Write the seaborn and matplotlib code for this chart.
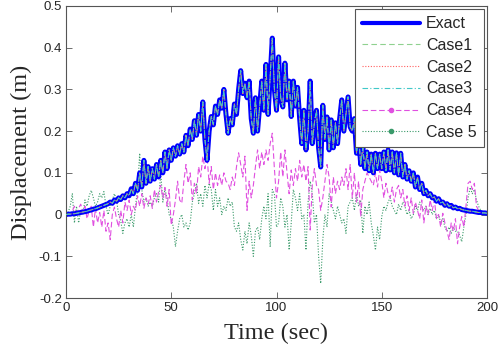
import matplotlib
matplotlib.use("Agg")
import matplotlib.pyplot as plt
from matplotlib.lines import Line2D
import numpy as np
import seaborn as sns

# time axis, 1 s steps
t = np.arange(0, 201, 1)

# values
exact = [
    0.000, 0.001, 0.001, 0.002, 0.002, 0.003, 0.004, 0.005, 0.006, 0.007,
    0.008, 0.010, 0.011, 0.013, 0.014, 0.016, 0.018, 0.020, 0.022, 0.024,
    0.026, 0.030, 0.027, 0.035, 0.032, 0.040, 0.036, 0.045, 0.040, 0.050,
    0.045, 0.062, 0.050, 0.075, 0.058, 0.100, 0.066, 0.130, 0.075, 0.115,
    0.080, 0.110, 0.085, 0.120, 0.090, 0.130, 0.100, 0.150, 0.110, 0.155,
    0.130, 0.160, 0.140, 0.165, 0.145, 0.170, 0.150, 0.190, 0.165, 0.205,
    0.180, 0.225, 0.190, 0.240, 0.200, 0.270, 0.180, 0.130, 0.200, 0.235,
    0.215, 0.260, 0.240, 0.275, 0.255, 0.300, 0.240, 0.195, 0.230, 0.215,
    0.265, 0.240, 0.300, 0.345, 0.290, 0.315, 0.280, 0.320, 0.230, 0.195,
    0.280, 0.200, 0.260, 0.320, 0.250, 0.360, 0.240, 0.330, 0.423, 0.300,
    0.250, 0.378, 0.280, 0.258, 0.363, 0.275, 0.320, 0.235, 0.320, 0.260,
    0.305, 0.230, 0.170, 0.250, 0.155, 0.200, 0.320, 0.170, 0.220, 0.250,
    0.160, 0.114, 0.262, 0.180, 0.234, 0.155, 0.227, 0.160, 0.220, 0.170,
    0.230, 0.275, 0.200, 0.240, 0.282, 0.210, 0.200, 0.230, 0.147, 0.190,
    0.120, 0.160, 0.110, 0.150, 0.105, 0.145, 0.100, 0.147, 0.110, 0.145,
    0.110, 0.150, 0.105, 0.155, 0.107, 0.150, 0.100, 0.148, 0.095, 0.147,
    0.090, 0.120, 0.085, 0.105, 0.080, 0.100, 0.066, 0.090, 0.060, 0.075,
    0.050, 0.058, 0.045, 0.050, 0.040, 0.042, 0.032, 0.038, 0.028, 0.030,
    0.022, 0.026, 0.020, 0.022, 0.016, 0.018, 0.014, 0.015, 0.012, 0.011,
    0.010, 0.009, 0.008, 0.008, 0.007, 0.006, 0.005, 0.005, 0.004, 0.004, 0.003,
]
# cases 1-3 lie on top of the exact curve
case1 = exact
case2 = exact
case3 = exact

case4 = [
    0.000, 0.001, 0.003, 0.008, 0.020, -0.005, 0.015, 0.025, 0.005, 0.020,
    -0.010, 0.010, 0.020, -0.030, 0.015, -0.020, 0.005, -0.030, 0.010, -0.040,
    -0.020, -0.060, 0.000, 0.018, -0.010, -0.030, 0.010, -0.020, 0.030, 0.010,
    0.035, 0.000, 0.020, 0.010, 0.045, 0.020, 0.050, 0.015, 0.040, 0.025,
    0.045, 0.015, 0.060, 0.030, 0.055, 0.070, 0.040, 0.065, 0.020, 0.060,
    -0.025, 0.000, 0.035, 0.080, 0.035, 0.027, 0.080, 0.120, 0.075, 0.100,
    0.035, 0.075, 0.050, 0.115, 0.090, 0.140, 0.110, 0.140, 0.075, 0.115,
    0.060, 0.100, 0.070, 0.095, 0.070, 0.100, 0.080, 0.075, 0.060, 0.090,
    0.070, 0.115, 0.148, 0.120, 0.090, 0.140, 0.010, 0.080, 0.040, 0.070,
    0.115, 0.155, 0.110, 0.150, 0.120, 0.155, 0.130, 0.170, 0.195, 0.110,
    0.040, 0.080, 0.150, 0.090, 0.155, 0.100, 0.050, 0.107, 0.070, 0.110,
    0.080, 0.130, 0.090, 0.120, 0.080, 0.115, -0.037, 0.070, 0.110, 0.070,
    0.060, 0.010, 0.040, 0.080, 0.120, 0.090, 0.018, 0.090, 0.050, 0.080,
    0.060, 0.090, 0.070, 0.110, 0.060, 0.120, 0.040, 0.100, 0.030, 0.080,
    -0.005, 0.060, 0.080, 0.100, 0.090, 0.080, 0.070, 0.100, 0.066, 0.107,
    0.080, 0.040, 0.075, 0.050, 0.040, 0.066, 0.030, 0.060, 0.070, 0.040,
    0.060, 0.020, 0.045, 0.010, 0.040, 0.003, 0.030, 0.010, -0.010, 0.035,
    -0.020, 0.020, 0.000, 0.035, 0.010, 0.035, -0.010, 0.000, -0.030, 0.003,
    -0.020, -0.040, -0.060, -0.020, -0.040, -0.010, -0.070, -0.030, -0.005, -0.030,
    0.020, 0.075, 0.080, 0.060, 0.075, 0.020, 0.010, 0.005, 0.003, 0.002, 0.001,
]

case5 = [
    0.000, 0.005, 0.020, 0.050, -0.020, 0.020, -0.020, 0.010, 0.000, 0.035,
    0.020, 0.045, 0.058, 0.040, 0.020, 0.030, 0.050, 0.040, 0.055, 0.020,
    0.000, 0.020, 0.035, 0.050, 0.035, 0.000, -0.015, -0.045, -0.020, -0.010,
    -0.030, 0.000, -0.030, 0.020, 0.060, 0.147, 0.060, 0.030, 0.040, 0.020,
    0.030, 0.020, 0.040, 0.050, 0.030, 0.100, 0.030, 0.060, 0.040, 0.000,
    -0.010, -0.030, -0.077, -0.040, -0.010, 0.000, -0.030, -0.020, -0.037, -0.020,
    0.030, 0.050, 0.075, 0.027, 0.050, 0.020, 0.070, 0.040, 0.075, 0.060,
    0.010, 0.060, 0.020, 0.040, 0.000, 0.020, 0.010, 0.040, 0.020, 0.030,
    -0.030, -0.040, -0.020, -0.060, -0.085, -0.040, -0.070, -0.020, -0.050, -0.100,
    -0.040, -0.030, -0.060, -0.010, 0.020, -0.010, 0.050, -0.078, 0.060, 0.050,
    -0.030, -0.020, 0.040, 0.020, -0.030, 0.000, -0.085, -0.020, 0.060, 0.040,
    0.010, 0.050, -0.010, 0.000, -0.085, 0.030, 0.080, 0.050, -0.020, 0.000,
    -0.100, -0.165, -0.060, 0.000, -0.030, 0.050, 0.030, 0.010, -0.010, 0.020,
    0.000, -0.020, -0.010, -0.045, 0.020, 0.030, 0.040, 0.010, 0.050, 0.020,
    0.035, -0.045, 0.020, 0.000, 0.030, -0.020, -0.050, -0.085, -0.030, -0.060,
    -0.005, 0.020, 0.010, 0.030, 0.040, 0.020, 0.010, 0.000, 0.025, 0.010,
    0.030, 0.020, 0.000, 0.010, -0.010, 0.000, 0.020, 0.010, 0.030, 0.020,
    0.010, 0.020, 0.000, 0.015, 0.000, 0.010, -0.010, 0.000, -0.020, -0.010,
    -0.030, -0.040, -0.030, -0.045, -0.030, -0.040, -0.040, -0.050, -0.065, -0.030,
    0.000, 0.040, 0.065, 0.050, 0.060, 0.035, 0.020, 0.010, 0.005, 0.002, 0.001,
]

labels = ["Exact", "Case1", "Case2", "Case3", "Case4", "Case 5"]
x_ticks = [0, 50, 100, 150, 200]
y_ticks = [-0.2, -0.1, 0, 0.1, 0.2, 0.3, 0.4, 0.5]

sns.set_style("ticks")
plt.rcParams["font.family"] = ["Liberation Sans", "DejaVu Sans"]
plt.rcParams["xtick.direction"] = "in"
plt.rcParams["ytick.direction"] = "in"

fig = plt.figure(figsize=(5.0, 3.52), dpi=100)
ax = fig.add_axes([0.132, 0.1534, 0.842, 0.8296])

c_exact = "#0000ff"
c1 = "#8fd18f"
c2 = "#ff6060"
c3 = "#40c8c8"
c4 = "#e050e0"
c5 = "#3a9a6a"

sns.lineplot(x=t, y=exact, ax=ax, color=c_exact, lw=3.6, zorder=2)
sns.lineplot(x=t, y=case5, ax=ax, color=c5, lw=0.8, linestyle=(0, (1, 1.5)), zorder=1)
sns.lineplot(x=t, y=case4, ax=ax, color=c4, lw=0.8, linestyle=(0, (5, 2.5)), zorder=1)
sns.lineplot(x=t, y=case1, ax=ax, color=c1, lw=0.7, linestyle=(0, (5, 3)), zorder=3)
sns.lineplot(x=t, y=case2, ax=ax, color=c2, lw=0.7, linestyle=(0, (1, 1.5)), zorder=3)
sns.lineplot(x=t, y=case3, ax=ax, color=c3, lw=0.7, linestyle=(0, (5, 2, 1, 2)), zorder=3)

ax.set_xlim(0, 200)
ax.set_ylim(-0.2, 0.5)
ax.set_xticks(x_ticks)
ax.set_yticks(y_ticks)
ax.set_xticklabels([str(v) for v in x_ticks], fontsize=9.5)
ax.set_yticklabels(["-0.2", "-0.1", "0", "0.1", "0.2", "0.3", "0.4", "0.5"], fontsize=9.5)
ax.tick_params(top=True, right=True, length=4, width=0.6, color="#555555", pad=3)
for s in ax.spines.values():
    s.set_visible(True)
    s.set_color("#555555")
    s.set_linewidth(0.8)

ax.set_xlabel("Time (sec)", family=["Liberation Serif"], fontsize=17.5, labelpad=6)
ax.set_ylabel("Displacement (m)", family=["Liberation Serif"], fontsize=17.5, labelpad=5)

handles = [
    Line2D([], [], color=c_exact, lw=3),
    Line2D([], [], color=c1, lw=0.8, linestyle=(0, (5, 3))),
    Line2D([], [], color=c2, lw=0.8, linestyle=(0, (1, 1.5))),
    Line2D([], [], color=c3, lw=0.8, linestyle=(0, (5, 2, 1, 2))),
    Line2D([], [], color=c4, lw=0.8, linestyle=(0, (5, 2.5)), marker=".", markersize=6, markevery=[1]),
    Line2D([], [], color=c5, lw=0.8, linestyle=(0, (1, 1.5)), marker=".", markersize=6, markevery=[1]),
]
for h in handles[4:]:
    h.set_data([0, 0.5, 1], [0, 0, 0])
leg = ax.legend(handles, labels, loc="upper right", fontsize=11.5, handlelength=3.6,
                labelspacing=0.42, borderpad=0.45, handletextpad=0.4,
                fancybox=False, framealpha=1, borderaxespad=0.2)
leg.get_frame().set_edgecolor("#555555")
leg.get_frame().set_linewidth(0.8)

fig.savefig("out.png", dpi=100)
